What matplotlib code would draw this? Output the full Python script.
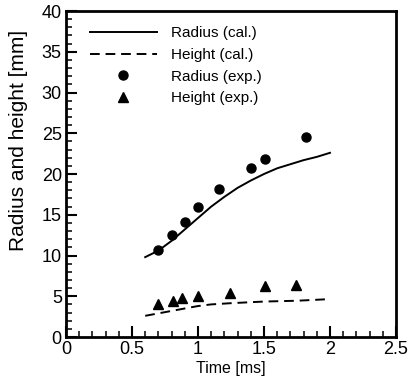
import matplotlib
matplotlib.use("Agg")
import matplotlib.pyplot as plt
from matplotlib.ticker import MultipleLocator

plt.rcParams['font.family'] = ['Liberation Sans', 'DejaVu Sans']

# Calculated radius curve
t_rad_cal = [0.6, 0.7, 0.8, 0.9, 1.0, 1.1, 1.2, 1.3, 1.4, 1.5, 1.6, 1.7, 1.8, 1.9, 2.0]
rad_cal = [9.8, 10.6, 11.8, 13.2, 14.6, 16.0, 17.2, 18.3, 19.2, 20.0, 20.7, 21.2, 21.7, 22.1, 22.6]

# Calculated height curve
t_hgt_cal = [0.6, 0.7, 0.8, 0.9, 1.0, 1.1, 1.25, 1.5, 1.75, 2.0]
hgt_cal = [2.6, 2.9, 3.2, 3.5, 3.8, 4.0, 4.15, 4.35, 4.45, 4.65]

# Experimental radius
t_rad_exp = [0.7, 0.8, 0.9, 1.0, 1.16, 1.4, 1.51, 1.82]
rad_exp = [10.7, 12.5, 14.1, 15.9, 18.1, 20.7, 21.8, 24.5]

# Experimental height
t_hgt_exp = [0.7, 0.81, 0.88, 1.0, 1.24, 1.51, 1.74]
hgt_exp = [4.0, 4.4, 4.75, 5.0, 5.45, 6.2, 6.4]

x_ticks = [0, 0.5, 1, 1.5, 2, 2.5]
x_labels = ['0', '0.5', '1', '1.5', '2', '2.5']
y_ticks = [0, 5, 10, 15, 20, 25, 30, 35, 40]

fig = plt.figure(figsize=(4.08, 3.81), dpi=100)
ax = fig.add_axes([66/408, 44/381, 330/408, 326/381])

ax.plot(t_rad_cal, rad_cal, '-', color='black', lw=1.4, label='Radius (cal.)')
ax.plot(t_hgt_cal, hgt_cal, '--', color='black', lw=1.4, dashes=(5, 3), label='Height (cal.)')
ax.plot(t_rad_exp, rad_exp, 'o', color='black', ms=6.5, linestyle='none', label='Radius (exp.)')
ax.plot(t_hgt_exp, hgt_exp, '^', color='black', ms=6.5, linestyle='none', label='Height (exp.)')

ax.set_xlim(0, 2.5)
ax.set_ylim(0, 40)
ax.set_xticks(x_ticks)
ax.set_xticklabels(x_labels)
ax.set_yticks(y_ticks)
ax.xaxis.set_minor_locator(MultipleLocator(0.1))
ax.yaxis.set_minor_locator(MultipleLocator(1))
ax.tick_params(which='major', direction='in', length=8, width=1.5, labelsize=13, pad=3)
ax.tick_params(which='minor', direction='in', length=4, width=1.1)
for s in ax.spines.values():
    s.set_linewidth(2)

ax.set_xlabel('Time [ms]', fontsize=11.5, labelpad=2)
ax.set_ylabel('Radius and height [mm]', fontsize=15)
ax.yaxis.set_label_coords(-0.115, 0.604)

ax.legend(loc='upper left', frameon=False, fontsize=11, handlelength=4.4,
          labelspacing=0.5, handletextpad=0.95, borderaxespad=0.5,
          bbox_to_anchor=(0.03, 0.995))

fig.savefig('out.png', dpi=100)
